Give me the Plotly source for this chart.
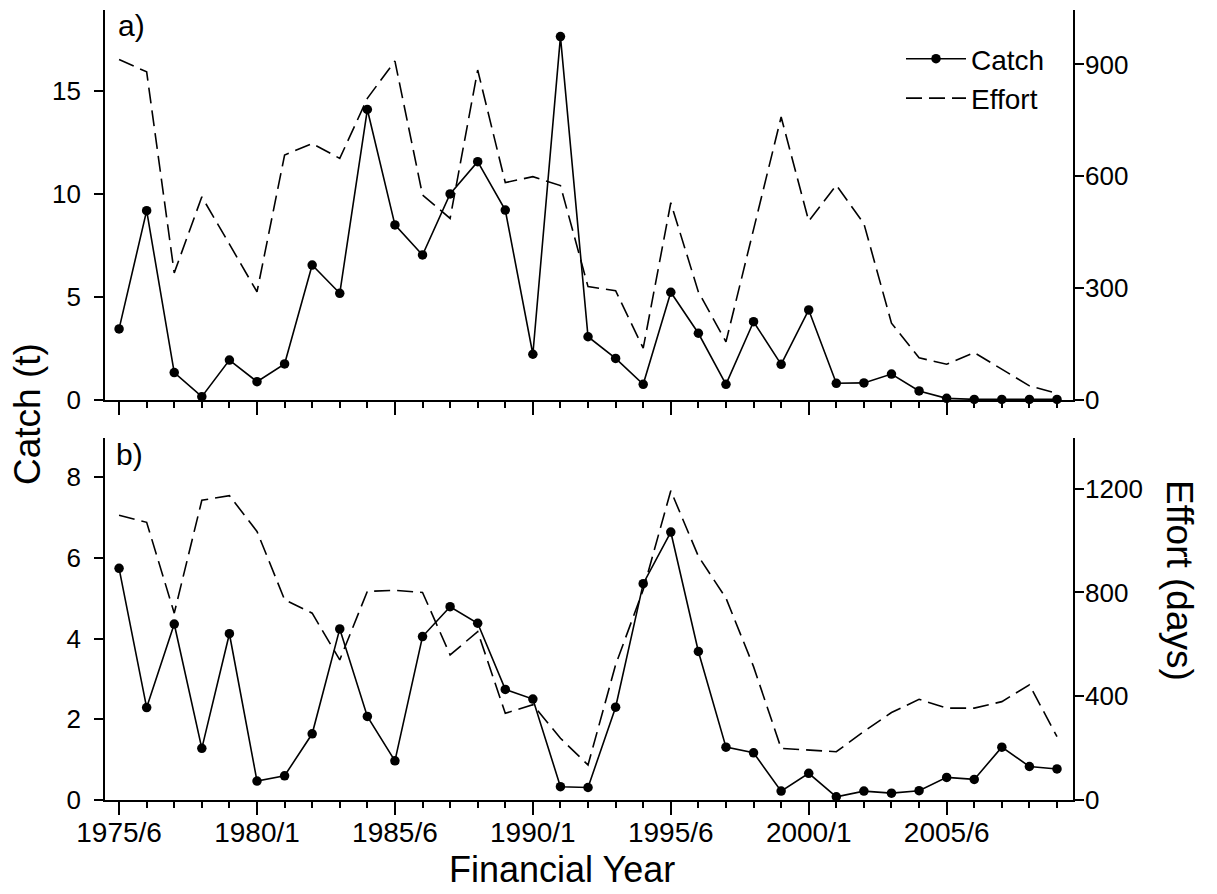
import plotly.graph_objects as go

# ---- data ----
years = list(range(1975, 2010))

catch_a = [3.45, 9.19, 1.33, 0.16, 1.94, 0.89, 1.75, 6.55, 5.18, 14.1, 8.5, 7.04, 10.0,
           11.57, 9.22, 2.22, 17.64, 3.07, 2.02, 0.76, 5.23, 3.24, 0.76, 3.80, 1.73,
           4.37, 0.81, 0.83, 1.26, 0.44, 0.08, 0.03, 0.03, 0.03, 0.03]
effort_a = [913, 880, 341, 545, 418, 290, 657, 688, 648, 809, 909, 550, 487,
            885, 583, 599, 575, 304, 293, 139, 529, 290, 156, 460, 759,
            480, 576, 473, 206, 113, 96, 127, 82, 38, 18]

catch_b = [5.74, 2.29, 4.36, 1.28, 4.12, 0.47, 0.60, 1.64, 4.24, 2.07, 0.97, 4.05, 4.79,
           4.38, 2.74, 2.50, 0.33, 0.31, 2.30, 5.36, 6.64, 3.68, 1.31, 1.17, 0.22,
           0.66, 0.08, 0.22, 0.17, 0.23, 0.56, 0.51, 1.31, 0.83, 0.77]
effort_b = [1097, 1070, 720, 1155, 1173, 1035, 772, 720, 540, 804, 808, 800, 559,
            649, 334, 367, 238, 135, 521, 810, 1192, 939, 778, 514, 199,
            193, 186, 264, 337, 388, 354, 354, 379, 444, 244]

tick_vals = [1975, 1980, 1985, 1990, 1995, 2000, 2005]
tick_text = ["1975/6", "1980/1", "1985/6", "1990/1", "1995/6", "2000/1", "2005/6"]

# ---- figure ----
# the page body has an 8px margin, so the figure is 8px smaller and
# page coordinates are converted with that offset
OFF = 8
W, H = 1217 - OFF, 894 - OFF


def px(x):
    return (x - OFF) / W


def py(y):
    return (H - (y - OFF)) / H


FONT = "Liberation Sans, Arial, Helvetica, sans-serif"
LW = 1.6
DASH = "16px,7px"

fig = go.Figure()

fig.add_trace(go.Scatter(x=years, y=catch_a, mode="lines+markers", name="Catch",
                         line=dict(color="black", width=LW),
                         marker=dict(color="black", size=9.5),
                         xaxis="x", yaxis="y", cliponaxis=False))
fig.add_trace(go.Scatter(x=years, y=effort_a, mode="lines", name="Effort",
                         line=dict(color="black", width=LW, dash=DASH),
                         xaxis="x", yaxis="y2", cliponaxis=False))
fig.add_trace(go.Scatter(x=years, y=catch_b, mode="lines+markers", name="Catch",
                         line=dict(color="black", width=LW),
                         marker=dict(color="black", size=9.5), showlegend=False,
                         xaxis="x2", yaxis="y3", cliponaxis=False))
fig.add_trace(go.Scatter(x=years, y=effort_b, mode="lines", name="Effort",
                         line=dict(color="black", width=LW, dash=DASH), showlegend=False,
                         xaxis="x2", yaxis="y4", cliponaxis=False))

xdom = [px(105), px(1073)]
dom_a = [py(400), py(10)]
dom_b = [py(800), py(438)]
xrange = [1974.49, 2009.58]

axis_common = dict(showline=True, linecolor="black", linewidth=LW, showgrid=False,
                   zeroline=False, ticks="outside", tickcolor="black", tickwidth=LW,
                   automargin=False,
                   tickfont=dict(family=FONT, size=26, color="black"))

minor = dict(dtick=1, tick0=1975, ticks="outside", ticklen=6, tickwidth=LW,
             tickcolor="black", showgrid=False)

fig.update_layout(
    template="none",
    width=W, height=H,
    margin=dict(l=0, r=0, t=0, b=0, autoexpand=False),
    paper_bgcolor="white", plot_bgcolor="white",
    font=dict(family=FONT, color="black"),
    xaxis=dict(axis_common, domain=xdom, range=xrange, anchor="y",
               tickvals=tick_vals, showticklabels=False, ticklen=13, minor=minor),
    yaxis=dict(axis_common, domain=dom_a, range=[0, 18.93], anchor="x",
               dtick=5, ticklen=9, ticklabelstandoff=8),
    yaxis2=dict(axis_common, overlaying="y", side="right", anchor="x",
                range=[0, 1046], dtick=300, ticklen=9, ticklabelstandoff=-4),
    xaxis2=dict(axis_common, domain=xdom, range=xrange, anchor="y3",
                tickvals=tick_vals, ticktext=tick_text, ticklen=13, minor=minor,
                ticklabelstandoff=-6,
                tickfont=dict(family=FONT, size=28, color="black")),
    yaxis3=dict(axis_common, domain=dom_b, range=[0, 8.97], anchor="x2",
                dtick=2, ticklen=9, ticklabelstandoff=8),
    yaxis4=dict(axis_common, overlaying="y3", side="right", anchor="x2",
                range=[0, 1395], dtick=400, ticklen=9, ticklabelstandoff=-4),
    showlegend=True,
    legend=dict(x=px(901), y=py(34), xanchor="left", yanchor="top",
                bgcolor="rgba(0,0,0,0)", itemwidth=60, tracegroupgap=0,
                font=dict(family=FONT, size=28, color="black")),
)

ann_font = dict(family=FONT, color="black")
fig.add_annotation(text="a)", xref="paper", yref="paper", x=px(116), y=py(25),
                   xanchor="left", yanchor="middle", showarrow=False,
                   font=dict(ann_font, size=30))
fig.add_annotation(text="b)", xref="paper", yref="paper", x=px(114), y=py(454),
                   xanchor="left", yanchor="middle", showarrow=False,
                   font=dict(ann_font, size=30))
fig.add_annotation(text="Catch (t)", xref="paper", yref="paper", x=px(28), y=py(414),
                   xanchor="center", yanchor="middle", showarrow=False, textangle=-90,
                   font=dict(ann_font, size=37))
fig.add_annotation(text="Effort (days)", xref="paper", yref="paper", x=px(1180), y=py(580),
                   xanchor="center", yanchor="middle", showarrow=False, textangle=90,
                   font=dict(ann_font, size=37))
fig.add_annotation(text="Financial Year", xref="paper", yref="paper", x=px(562), y=py(869),
                   xanchor="center", yanchor="middle", showarrow=False,
                   font=dict(ann_font, size=36))

fig.write_html("out.html")
